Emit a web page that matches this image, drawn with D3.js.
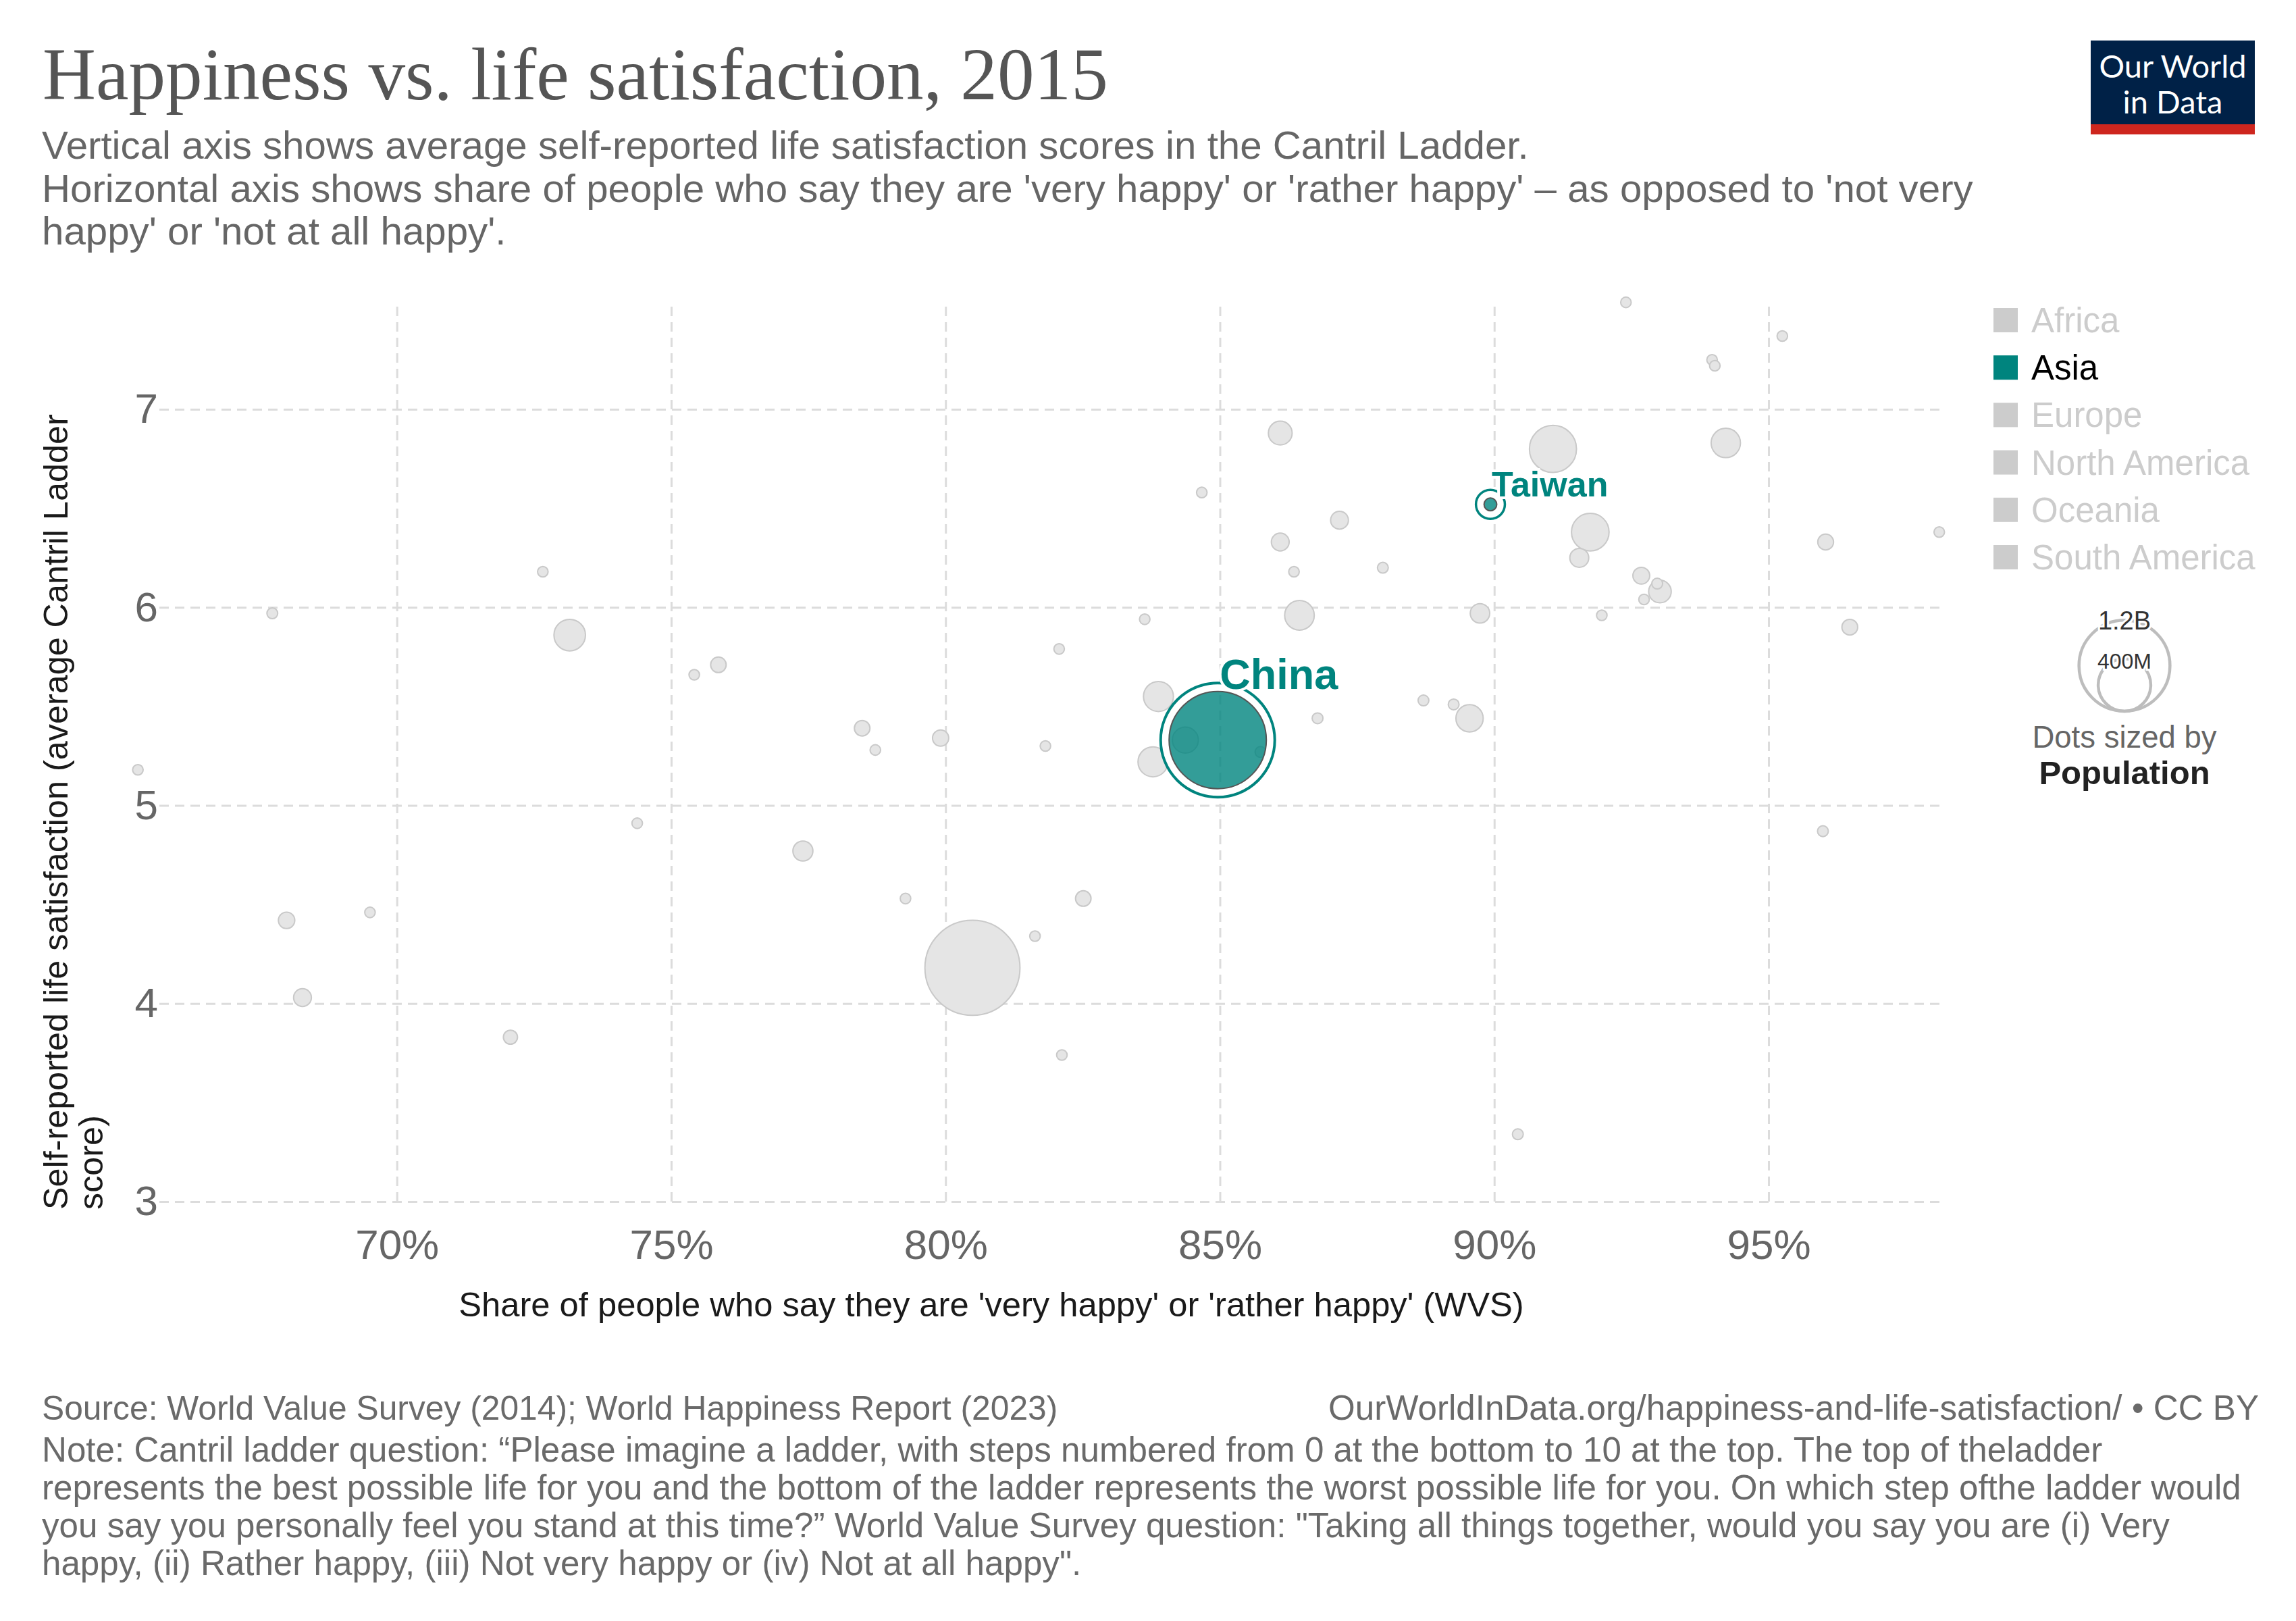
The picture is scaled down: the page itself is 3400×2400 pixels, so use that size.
<!DOCTYPE html>
<html>
<head>
<meta charset="utf-8">
<script src="https://cdn.jsdelivr.net/npm/d3@7"></script>
<style>
  html, body { margin: 0; padding: 0; background: #fff; }
  svg { display: block; }
  text { font-family: "Liberation Sans", Arial, Helvetica, sans-serif; }
</style>
</head>
<body>
<svg id="chart" width="3400" height="2400"></svg>
<script>
// ---------------- DATA ----------------
// Share of people 'very happy' or 'rather happy' (%)
const happyShare = [65.28, 67.73, 72.66, 73.15, 75.42, 75.86, 82.07, 78.48, 78.72, 79.91,
  81.82, 74.38, 77.40, 67.99, 69.51, 68.28, 72.07, 79.27, 82.51, 81.63,
  80.49, 82.12, 92.40, 95.25, 93.97, 94.02, 86.10, 91.07, 94.22, 84.67,
  89.93, 87.18, 91.75, 98.11, 86.10, 96.04, 86.35, 87.97, 91.55, 92.68,
  92.97, 93.02, 92.73, 91.96, 83.63, 86.45, 89.74, 96.48, 83.88, 88.71,
  89.26, 89.55, 86.78, 84.96, 84.37, 85.74, 83.78, 95.99, 90.43];
// Cantril ladder score
const lifeSat = [5.18, 5.97, 6.18, 5.86, 5.66, 5.71, 5.79, 5.39, 5.28, 5.34,
  5.30, 4.91, 4.77, 4.42, 4.46, 4.03, 3.83, 4.53, 4.53, 4.34,
  4.18, 3.74, 7.54, 7.37, 7.25, 7.22, 6.88, 6.80, 6.83, 6.58,
  6.52, 6.44, 6.38, 6.38, 6.33, 6.33, 6.18, 6.20, 6.25, 6.16,
  6.12, 6.08, 6.04, 5.96, 5.94, 5.96, 5.97, 5.90, 5.55, 5.53,
  5.51, 5.44, 5.44, 5.33, 5.33, 5.27, 5.22, 4.87, 3.34];
// Population (millions)
const population = [15, 17, 16, 144, 16, 35, 15, 35, 15, 38,
  15, 15, 58, 39, 15, 46, 29, 15, 35, 15,
  1310, 15, 16, 15, 15, 15, 82, 321, 125, 15,
  23.5, 46, 205, 15, 46, 36, 15, 17, 52, 41,
  17, 74, 15, 15, 15, 127, 55, 36, 130, 17,
  17, 108, 17, 1371, 98, 17, 130, 17, 17];
// Named (highlighted) entities, by index
const entityNames = {53: "China", 30: "Taiwan"};

const xTicks = [70, 75, 80, 85, 90, 95];
const yTicks = [3, 4, 5, 6, 7];
const continents = ["Africa", "Asia", "Europe", "North America", "Oceania", "South America"];
const activeContinent = "Asia";
const sizeLegendValues = [1200, 400];
const sizeLegendLabels = ["1.2B", "400M"];

const title = "Happiness vs. life satisfaction, 2015";
const subtitleLines = [
  "Vertical axis shows average self-reported life satisfaction scores in the Cantril Ladder.",
  "Horizontal axis shows share of people who say they are 'very happy' or 'rather happy' – as opposed to 'not very",
  "happy' or 'not at all happy'."
];
const xAxisTitle = "Share of people who say they are 'very happy' or 'rather happy' (WVS)";
const yAxisTitleLines = ["Self-reported life satisfaction (average Cantril Ladder", "score)"];
const sourceText = "Source: World Value Survey (2014); World Happiness Report (2023)";
const urlText = "OurWorldInData.org/happiness-and-life-satisfaction/ • CC BY";
const noteLines = [
  "Note: Cantril ladder question: “Please imagine a ladder, with steps numbered from 0 at the bottom to 10 at the top. The top of theladder",
  "represents the best possible life for you and the bottom of the ladder represents the worst possible life for you. On which step ofthe ladder would",
  "you say you personally feel you stand at this time?” World Value Survey question: \"Taking all things together, would you say you are (i) Very",
  "happy, (ii) Rather happy, (iii) Not very happy or (iv) Not at all happy\"."
];

// ---------------- LAYOUT ----------------
const svg = d3.select("#chart");
const TEAL = "#00847e";
const plot = {left: 236, right: 2874, top: 449, bottom: 1779};

const x = d3.scaleLinear().domain([70, 95]).range([587.7, 2619]);
const y = d3.scaleLinear().domain([3, 7]).range([1779, 606]);
const r = d3.scaleSqrt().domain([0, 1371]).range([0, 72]);
const rr = p => Math.max(7.8, r(p));

function fitBlock(sel, idx, target) {
  const node = sel.nodes()[idx];
  const w = node.getComputedTextLength();
  const fs = parseFloat(d3.select(node).attr("font-size"));
  const nfs = fs * target / w;
  sel.attr("font-size", nfs);
  return nfs;
}

// Title
const tSel = svg.append("text").attr("x", 63).attr("y", 147)
  .attr("font-size", 100).attr("fill", "#555")
  .style("font-family", "'Liberation Serif', 'Times New Roman', serif")
  .text(title);
fitBlock(tSel, 0, 1578);

// Subtitle
const subSel = svg.selectAll(".sub").data(subtitleLines).join("text")
  .attr("class", "sub").attr("x", 62).attr("y", (d, i) => 235 + i * 63.5)
  .attr("font-size", 50).attr("fill", "#666").text(d => d);
fitBlock(subSel, 1, 2860);

// Logo
const logo = svg.append("g");
logo.append("rect").attr("x", 3096).attr("y", 60).attr("width", 243).attr("height", 124).attr("fill", "#002147");
logo.append("rect").attr("x", 3096).attr("y", 184).attr("width", 243).attr("height", 15).attr("fill", "#ce261e");
logo.selectAll("text").data(["Our World", "in Data"]).join("text")
  .attr("x", 3217.5).attr("y", (d, i) => 115 + i * 53).attr("text-anchor", "middle")
  .attr("fill", "#fff").attr("font-size", 47)
  .style("font-family", "Lato, 'Liberation Sans', sans-serif").text(d => d);

// Axes (gridlines via ticks)
const yAxis = d3.axisLeft(y).tickValues(yTicks).tickSize(-(plot.right - plot.left)).tickPadding(2).tickFormat(d3.format("d"));
const gy = svg.append("g").attr("transform", `translate(${plot.left},0)`).call(yAxis);
gy.select(".domain").remove();
gy.selectAll("line").attr("stroke", "#dcdcdc").attr("stroke-width", 3).attr("stroke-dasharray", "14,9");
gy.selectAll("text").attr("font-size", 62).attr("fill", "#666")
  .style("font-family", "'Liberation Sans', Arial, sans-serif");

const xAxis = d3.axisBottom(x).tickValues(xTicks).tickSize(-(plot.bottom - plot.top)).tickPadding(41).tickFormat(d => d + "%");
const gx = svg.append("g").attr("transform", `translate(0,${plot.bottom})`).call(xAxis);
gx.select(".domain").remove();
gx.selectAll("line").attr("stroke", "#dcdcdc").attr("stroke-width", 3).attr("stroke-dasharray", "14,9");
gx.selectAll("text").attr("font-size", 62).attr("fill", "#666")
  .style("font-family", "'Liberation Sans', Arial, sans-serif");

// Axis titles
const xt = svg.append("text").attr("x", 1468).attr("y", 1949).attr("text-anchor", "middle")
  .attr("font-size", 46).attr("fill", "#1a1a1a").text(xAxisTitle);
fitBlock(xt, 0, 1578);
const yt = svg.selectAll(".ytitle").data(yAxisTitleLines).join("text").attr("class", "ytitle")
  .attr("transform", (d, i) => `translate(${100 + i * 52},1791) rotate(-90)`)
  .attr("font-size", 46).attr("fill", "#1a1a1a").text(d => d);
fitBlock(yt, 0, 1178);

// Points
const pts = happyShare.map((h, i) => ({i, h, s: lifeSat[i], p: population[i], name: entityNames[i] || null}));
const grey = pts.filter(d => !d.name).sort((a, b) => b.p - a.p);
const hl = pts.filter(d => d.name).sort((a, b) => b.p - a.p);

svg.append("g").selectAll("circle").data(grey).join("circle")
  .attr("cx", d => x(d.h)).attr("cy", d => y(d.s)).attr("r", d => rr(d.p))
  .attr("fill", "#e5e5e5").attr("stroke", "#c9c9c9").attr("stroke-width", 2);

const hg = svg.append("g");
hl.forEach(d => {
  const cx = x(d.h), cy = y(d.s), rad = rr(d.p);
  const big = rad > 30;
  const ringR = big ? rad + 12.5 : rad + 12;
  hg.append("circle").attr("cx", cx).attr("cy", cy).attr("r", (rad + ringR) / 2)
    .attr("fill", "none").attr("stroke", "#fff").attr("stroke-width", ringR - rad);
  hg.append("circle").attr("cx", cx).attr("cy", cy).attr("r", ringR)
    .attr("fill", "none").attr("stroke", TEAL).attr("stroke-width", big ? 4 : 3.5);
  hg.append("circle").attr("cx", cx).attr("cy", cy).attr("r", rad)
    .attr("fill", TEAL).attr("fill-opacity", 0.8).attr("stroke", "#555").attr("stroke-width", 2);
});
// Labels
hl.forEach(d => {
  const cx = x(d.h), cy = y(d.s), rad = rr(d.p);
  const big = rad > 30;
  hg.append("text").attr("x", cx + (big ? 3 : 2)).attr("y", big ? cy - rad - 4 : cy - 12)
    .attr("font-size", big ? 63 : 52).attr("font-weight", "bold").attr("fill", TEAL)
    .attr("stroke", "#fff").attr("stroke-width", 8).attr("paint-order", "stroke")
    .text(d.name);
});

// Legend (continents)
const lg = svg.append("g");
continents.forEach((c, i) => {
  const by = 492 + i * 70.2;
  const on = c === activeContinent;
  lg.append("rect").attr("x", 2952).attr("y", by - 36).attr("width", 36).attr("height", 36)
    .attr("fill", on ? TEAL : "#cccccc");
  lg.append("text").attr("x", 3008).attr("y", by).attr("font-size", 51)
    .attr("fill", on ? "#000" : "#cccccc").text(c);
});

// Size legend
const sl = svg.append("g");
const slBottom = 1053, slX = 3146;
sizeLegendValues.forEach((v, i) => {
  const rad = r(v);
  sl.append("circle").attr("cx", slX).attr("cy", slBottom - rad).attr("r", rad)
    .attr("fill", "none").attr("stroke", "#bdbdbd").attr("stroke-width", 4.5);
});
sizeLegendValues.forEach((v, i) => {
  const rad = r(v);
  sl.append("text").attr("x", slX).attr("y", slBottom - 2 * rad + (i === 0 ? 14 : 15))
    .attr("text-anchor", "middle").attr("font-size", i === 0 ? 38 : 32).attr("fill", "#333")
    .attr("stroke", "#fff").attr("stroke-width", 6).attr("paint-order", "stroke")
    .text(sizeLegendLabels[i]);
});
sl.append("text").attr("x", slX).attr("y", 1107).attr("text-anchor", "middle")
  .attr("font-size", 45.5).attr("fill", "#666").text("Dots sized by");
sl.append("text").attr("x", slX).attr("y", 1161).attr("text-anchor", "middle")
  .attr("font-size", 49).attr("font-weight", "bold").attr("fill", "#222").text("Population");

// Footer
const noteSel = svg.selectAll(".note").data(noteLines).join("text").attr("class", "note")
  .attr("x", 62).attr("y", (d, i) => 2164 + i * 56)
  .attr("font-size", 46).attr("fill", "#6a6a6a").text(d => d);
const nfs = fitBlock(noteSel, 1, 3258);
const src = svg.append("text").attr("x", 62).attr("y", 2102).attr("font-size", nfs).attr("fill", "#6a6a6a").text(sourceText);
fitBlock(src, 0, 1504);
svg.append("text").attr("x", 3345).attr("y", 2102).attr("text-anchor", "end")
  .attr("font-size", nfs).attr("fill", "#6a6a6a").text(urlText);
</script>
</body>
</html>
